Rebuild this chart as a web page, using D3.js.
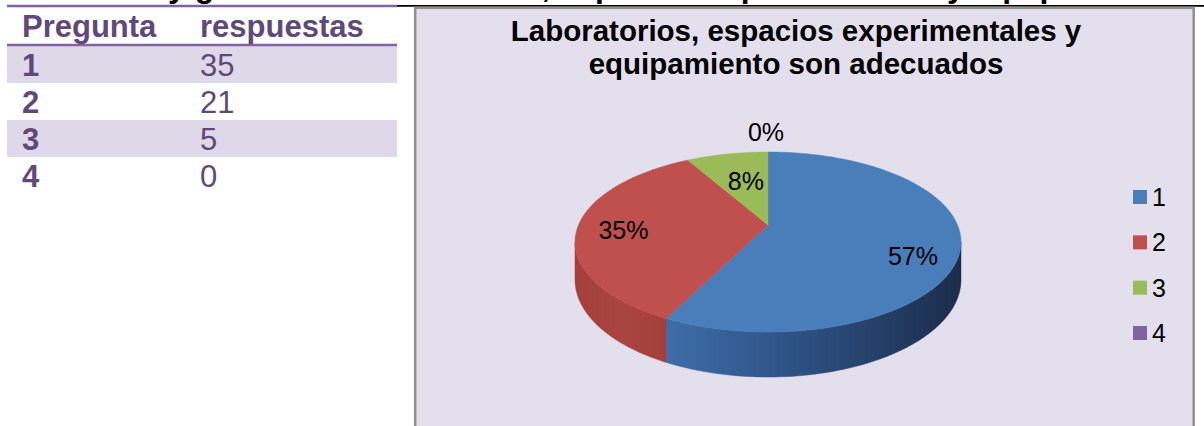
<!DOCTYPE html>
<html>
<head>
<meta charset="utf-8">
<script src="https://cdnjs.cloudflare.com/ajax/libs/d3/7.8.5/d3.min.js"></script>
<style>
  body { margin: 0; background: #fff; }
  svg { display: block; font-family: "Liberation Sans", Arial, sans-serif; }
</style>
</head>
<body>
<div id="chart"></div>
<script>

// data
var heading = "Tabla y gráfico 1. Laboratorios, espacios experimentales y equipamiento";
var tableHeaders = ["Pregunta", "respuestas"];
var preguntas = ["1", "2", "3", "4"];
var respuestas = [35, 21, 5, 0];
var chartTitle = ["Laboratorios, espacios experimentales y", "equipamiento son adecuados"];
var sliceColors = ["#4a7ebb", "#c0504d", "#9bbb59", "#8064a2"];

var width = 1204,
    height = 426;

var svg = d3.select("#chart").append("svg")
    .attr("width", width)
    .attr("height", height);

// heading line, mostly cut off at the top of the picture
svg.append("text")
    .attr("x", 78)
    .attr("y", -3)
    .style("font-size", "32px")
    .style("font-weight", "bold")
    .style("fill", "#000")
    .text(heading);

svg.append("line")
    .attr("x1", 396).attr("x2", 1204)
    .attr("y1", 5.8).attr("y2", 5.8)
    .style("stroke", "#000")
    .style("stroke-width", 1.8);

// ---- table ----
var purple = "#5f497a";
var rowY = d3.scaleBand()
    .domain(preguntas)
    .range([46, 46 + 37 * preguntas.length]);

svg.selectAll(".band")
    .data(preguntas.filter(function(d, i) { return i % 2 == 0; }))
  .enter().append("rect")
    .attr("class", "band")
    .attr("x", 7)
    .attr("width", 390)
    .attr("y", function(d) { return rowY(d); })
    .attr("height", rowY.bandwidth())
    .style("fill", "#dfd8e8");

svg.append("line")
    .attr("x1", 7).attr("x2", 397)
    .attr("y1", 6).attr("y2", 6)
    .style("stroke", "#8064a2")
    .style("stroke-width", 2.5);

svg.append("line")
    .attr("x1", 7).attr("x2", 397)
    .attr("y1", 45).attr("y2", 45)
    .style("stroke", "#8064a2")
    .style("stroke-width", 2.5);

var colX = [22, 200];

svg.selectAll(".thead")
    .data(tableHeaders)
  .enter().append("text")
    .attr("class", "thead")
    .attr("x", function(d, i) { return colX[i]; })
    .attr("y", 37)
    .style("font-size", "31px")
    .style("font-weight", "bold")
    .style("fill", purple)
    .text(function(d) { return d; });

var rows = svg.selectAll(".trow")
    .data(preguntas)
  .enter().append("g")
    .attr("class", "trow")
    .attr("transform", function(d) { return "translate(0," + (rowY(d) + 30) + ")"; });

rows.append("text")
    .attr("x", colX[0])
    .style("font-size", "31px")
    .style("font-weight", "bold")
    .style("fill", purple)
    .text(function(d) { return d; });

rows.append("text")
    .attr("x", colX[1])
    .style("font-size", "31px")
    .style("fill", purple)
    .text(function(d, i) { return respuestas[i]; });

// ---- chart box ----
svg.append("rect")
    .attr("x", 415.2)
    .attr("y", 7.8)
    .attr("width", 778.5)
    .attr("height", 440)
    .style("fill", "#e4dfec")
    .style("stroke", "#8f8f8f")
    .style("stroke-width", 2.5);

svg.selectAll(".ctitle")
    .data(chartTitle)
  .enter().append("text")
    .attr("class", "ctitle")
    .attr("x", 796)
    .attr("y", function(d, i) { return 41 + i * 33; })
    .attr("text-anchor", "middle")
    .style("font-size", "29.5px")
    .style("font-weight", "bold")
    .style("fill", "#000")
    .text(function(d) { return d; });

// ---- 3d pie ----
var CX = 768, CY = 225,     // projected centre of the pie top
    A = 189.5, B = 86.8,     // half axes before perspective
    K = 0.189,               // perspective strength
    DEPTH = 36.5;

function proj(theta, r, z) {
  var u = r * Math.sin(theta),
      v = -r * Math.cos(theta),
      w = 1 - K * v;
  return [CX + A * u / w, CY + (B * v + z) / w];
}

var pie = d3.pie().sort(null).value(function(d) { return d; });
var arcs = pie(respuestas);

// percentages rounded so they add to 100 (largest remainder)
var total = d3.sum(respuestas);
var raw = respuestas.map(function(d) { return d / total * 100; });
var pct = raw.map(Math.floor);
var left = 100 - d3.sum(pct);
d3.range(raw.length)
  .sort(function(a, b) { return (raw[b] - pct[b]) - (raw[a] - pct[a]); })
  .slice(0, left)
  .forEach(function(i) { pct[i] += 1; });

function samples(a0, a1) {
  var n = Math.max(2, Math.ceil((a1 - a0) / 0.02));
  return d3.range(n + 1).map(function(j) { return a0 + (a1 - a0) * j / n; });
}

var line = d3.line();

var defs = svg.append("defs");
var wallGrad = [
  ["#3f6daa", "#2c4d7e", "#1b2d4b"],
  ["#a53f3c", "#aa4441", "#a23e3b"],
  ["#7f9a48", "#7f9a48", "#6d853d"],
  ["#684f86", "#684f86", "#5a4475"]
];
wallGrad.forEach(function(stops, i) {
  var g = defs.append("linearGradient")
      .attr("id", "wall" + i)
      .attr("gradientUnits", "userSpaceOnUse")
      .attr("x1", i == 0 ? 665 : 575).attr("x2", i == 0 ? 962 : 670)
      .attr("y1", 0).attr("y2", 0);
  stops.forEach(function(c, j) {
    g.append("stop").attr("offset", j / (stops.length - 1)).attr("stop-color", c);
  });
});

// front wall visible between the two silhouette angles
var thetaR = Math.acos(-K),
    thetaL = 2 * Math.PI - thetaR;

arcs.forEach(function(d, i) {
  var b0 = Math.max(d.startAngle, thetaR),
      b1 = Math.min(d.endAngle, thetaL);
  if (b1 <= b0) return;
  var ts = samples(b0, b1);
  var pts = ts.map(function(t) { return proj(t, 1, 0); })
    .concat(ts.slice().reverse().map(function(t) { return proj(t, 1, DEPTH); }));
  svg.append("path")
      .attr("d", line(pts) + "Z")
      .style("fill", "url(#wall" + i + ")")
      .style("stroke", "url(#wall" + i + ")")
      .style("stroke-width", 0.5);
});

arcs.forEach(function(d, i) {
  if (d.endAngle - d.startAngle <= 0) return;
  var pts = [proj(0, 0, 0)].concat(samples(d.startAngle, d.endAngle).map(function(t) { return proj(t, 1, 0); }));
  svg.append("path")
      .attr("d", line(pts) + "Z")
      .style("fill", sliceColors[i])
      .style("stroke", sliceColors[i])
      .style("stroke-width", 0.5);
});

// data labels
var labelNudge = [15, 3, -6, 0];
arcs.forEach(function(d, i) {
  var mid = (d.startAngle + d.endAngle) / 2,
      p;
  if (d.value == 0) {
    p = proj(mid, 1, 0);
    p = [p[0] - 2, p[1] - 19.5];
  } else {
    var frac = (d.endAngle - d.startAngle) / (2 * Math.PI);
    p = proj(mid, frac < 0.1 ? 0.5 : 0.76, 0);
    p = [p[0], p[1] + labelNudge[i]];
  }
  svg.append("text")
      .attr("x", p[0])
      .attr("y", p[1])
      .attr("text-anchor", "middle")
      .attr("dy", "0.36em")
      .style("font-size", "25px")
      .style("fill", "#000")
      .text(pct[i] + "%");
});

// legend
var legY = d3.scalePoint()
    .domain(preguntas)
    .range([197, 333]);

var legend = svg.selectAll(".legend")
    .data(preguntas)
  .enter().append("g")
    .attr("class", "legend")
    .attr("transform", function(d) { return "translate(1133," + legY(d) + ")"; });

legend.append("rect")
    .attr("y", -7)
    .attr("width", 14)
    .attr("height", 14)
    .style("fill", function(d, i) { return sliceColors[i]; });

legend.append("text")
    .attr("x", 19)
    .attr("dy", "0.36em")
    .style("font-size", "25px")
    .style("fill", "#000")
    .text(function(d) { return d; });

</script>
</body>
</html>
